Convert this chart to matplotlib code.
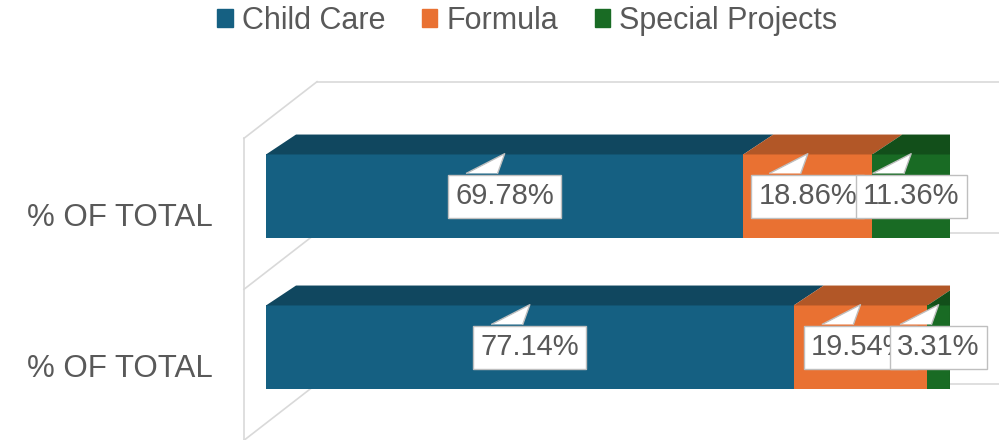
import numpy as np
import matplotlib.pyplot as plt
from matplotlib.patches import Rectangle, Polygon, Patch

plt.rcParams['font.family'] = ['Liberation Sans', 'DejaVu Sans']

categories = ['% OF TOTAL', '% OF TOTAL']
series = ['Child Care', 'Formula', 'Special Projects']
child_care = [69.78, 77.14]
formula = [18.86, 19.54]
special_projects = [11.36, 3.31]

values = [child_care, formula, special_projects]
front_colors = ['#156082', '#E97132', '#196B24']
top_colors = ['#10475F', '#B25727', '#124F1A']
side_color = '#0E4015'
text_color = '#595959'
grid_color = '#D9D9D9'

fig = plt.figure(figsize=(9.99, 4.4), dpi=100)
ax = fig.add_axes([266 / 999, 0, 684 / 999, 1])
ax.set_xlim(0, 100)
ax.set_ylim(1.613, -1.301)
ax.axis('off')

h = 0.556          # bar thickness (category units)
dx, dy = 4.39, 0.132  # depth of the bars
bx, fx = 7.46, -3.22  # back / front edge of the floor

# wall / floor lines
bounds = np.arange(len(categories) + 1) - 0.5
back = bounds - 0.26
front = bounds + 0.115
for b, f in zip(back, front):
    ax.plot([bx, 110], [b, b], color=grid_color, lw=1.2, zorder=1, clip_on=False)
    ax.plot([fx, bx], [f, b], color=grid_color, lw=1.2, zorder=1, clip_on=False)
ax.plot([fx, fx], [front[0], 1.7], color=grid_color, lw=1.2, zorder=1, clip_on=False)

z = 10
for i, cat in enumerate(categories):
    left = 0
    top = i - h / 2
    for j in range(len(series)):
        w = values[j][i]
        ax.add_patch(Rectangle((left, top), w, h, color=front_colors[j], zorder=3, lw=0))
        ax.add_patch(Polygon([(left, top), (left + w, top), (left + w + dx, top - dy), (left + dx, top - dy)],
                             closed=True, color=top_colors[j], zorder=3, lw=0))
        left += w
    ax.add_patch(Polygon([(left, top), (left + dx, top - dy), (left + dx, top + h - dy), (left, top + h)],
                         closed=True, color=side_color, zorder=3, lw=0))

    # data labels with callout tails
    left = 0
    for j in range(len(series)):
        w = values[j][i]
        cx = left + w / 2
        ax.text(cx, i, f'{w:.2f}%', ha='center', va='center', fontsize=21, color=text_color, zorder=z,
                bbox=dict(boxstyle='square,pad=0.25', fc='white', ec='#BFBFBF', lw=1))
        base = i - 0.152
        tail = [(cx - 5.56, base), (cx, top - 0.005), (cx - 1.02, base)]
        ax.add_patch(Polygon(tail, closed=True, fc='white', ec='none', zorder=z + 1))
        ax.plot([cx - 5.56, cx, cx - 1.02], [base - 0.002, top - 0.005, base - 0.002],
                color='#BFBFBF', lw=1, zorder=z + 1)
        z += 2
        left += w

    ax.text(-7.75, (front[i] + front[i + 1]) / 2 + 0.03, cat, ha='right', va='center',
            fontsize=22.5, color=text_color)

handles = [Patch(color=c) for c in front_colors]
fig.legend(handles, series, loc='center', bbox_to_anchor=(0.528, 1 - 21 / 440), ncol=3,
           frameon=False, fontsize=22, handlelength=0.5, handleheight=0.5,
           handletextpad=0.3, columnspacing=1.2, labelcolor=text_color)

fig.savefig('out.png', dpi=100)
